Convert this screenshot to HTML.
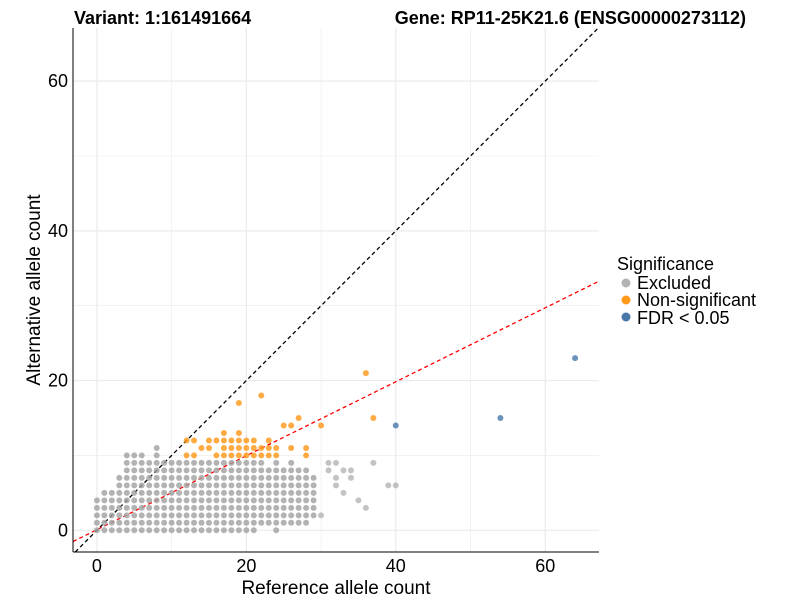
<!DOCTYPE html>
<html><head><meta charset="utf-8"><style>
body{margin:0;background:#fff;}
svg text{font-family:"Liberation Sans",Arial,sans-serif;}
</style></head><body>
<svg width="800" height="600" xmlns="http://www.w3.org/2000/svg">
<g id="grid"></g>
<g id="refline"></g>
<g id="pts"></g>
<g id="axes"></g>
<text x="74" y="24" font-size="18" font-weight="bold">Variant: 1:161491664</text>
<text x="746" y="24" font-size="18" font-weight="bold" text-anchor="end">Gene: RP11-25K21.6 (ENSG00000273112)</text>
<text x="336" y="594" font-size="19" text-anchor="middle">Reference allele count</text>
<text transform="translate(40,290) rotate(-90)" font-size="19" text-anchor="middle">Alternative allele count</text>
<g>
<text x="617" y="270" font-size="18">Significance</text>
<circle cx="626" cy="283" r="4.5" fill="#b3b3b3"/>
<text x="637" y="289" font-size="18">Excluded</text>
<circle cx="626" cy="300" r="4.5" fill="#ff9a1a"/>
<text x="637" y="306" font-size="18">Non-significant</text>
<circle cx="626" cy="317" r="4.5" fill="#4a78a8"/>
<text x="637" y="324" font-size="18">FDR &lt; 0.05</text>
</g>
</svg>
<script>
// grey columns: x index = column, value = max y (from 0 or colMin)
const excludedColTop=[4,5,5,7,10,10,10,9,11,9,9,9,9,9,9,9,9,9,9,9,9,9,9,8,9,8,9,8,8,7];
const excludedColMin=[0,0,0,0,0,0,0,0,0,0,0,0,0,0,0,0,0,0,0,0,0,0,1,1,0,1,1,1,1,2];
const excludedExtraX=[30,31,31,32,32,32,33,33,34,34,37,39,40,35,36];
const excludedExtraY=[2,9,8,9,7,6,8,5,8,7,9,6,6,4,3];
const nonsigX=[12,13,12,13,14,15,15,16,16,17,17,17,17,18,18,18,19,19,19,19,19,20,20,20,21,21,21,22,22,22,23,23,23,24,24,25,26,26,27,28,28,30,36,37];
const nonsigY=[12,12,10,10,11,11,12,12,10,10,11,12,13,10,11,12,10,11,12,13,17,10,11,12,10,11,12,18,10,11,10,11,12,10,11,14,14,11,15,10,11,14,21,15];
const fdrX=[40,54,64];
const fdrY=[14,15,23];
const xTicks=[0,20,40,60];
const yTicks=[0,20,40,60];
const L=73,R=599,T=28,B=552,xmin=-3.2,xmax=67.2,ymin=-2.9,ymax=67.1;
const sx=v=>L+(v-xmin)/(xmax-xmin)*(R-L);
const sy=v=>B-(v-ymin)/(ymax-ymin)*(B-T);
const NS="http://www.w3.org/2000/svg";
function mk(tag,attrs,parent){const e=document.createElementNS(NS,tag);for(const k in attrs)e.setAttribute(k,attrs[k]);parent.appendChild(e);return e;}
const grid=document.getElementById('grid'),pts=document.getElementById('pts'),axes=document.getElementById('axes'),rl=document.getElementById('refline');
for(let v=-10;v<=70;v+=10){
 if(v>=xmin&&v<=xmax){const l=mk('line',{x1:sx(v),x2:sx(v),y1:T,y2:B,stroke:'#ebebeb','stroke-width':v%20==0?1.2:0.6},grid);}
 if(v>=ymin&&v<=ymax){const l=mk('line',{x1:L,x2:R,y1:sy(v),y2:sy(v),stroke:'#ebebeb','stroke-width':v%20==0?1.2:0.6},grid);}
}
function clipLine(m,b,color,name){
 let x1=xmin,y1=m*x1+b,x2=xmax,y2=m*x2+b;
 if(y1<ymin){x1=(ymin-b)/m;y1=ymin;} if(y2>ymax){x2=(ymax-b)/m;y2=ymax;}
 const l=mk('line',{x1:sx(x1),y1:sy(y1),x2:sx(x2),y2:sy(y2),stroke:color,'stroke-width':1.3,'stroke-dasharray':'4,3'},rl);
 
 
}
clipLine(1,0,'#000','identity-line');
clipLine(0.494,0.08,'#ff0000','fit-line');
function dot(x,y,fill,name){const c=mk('circle',{cx:sx(x),cy:sy(y),r:3,fill:fill},pts);}
excludedColTop.forEach((top,x)=>{for(let y=excludedColMin[x];y<=top;y++)dot(x,y,'rgba(160,160,160,0.8)','excluded-point');});
excludedExtraX.forEach((x,i)=>dot(x,excludedExtraY[i],'rgba(170,170,170,0.7)','excluded-point'));
nonsigX.forEach((x,i)=>dot(x,nonsigY[i],'rgba(255,150,20,0.8)','nonsignificant-point'));
fdrX.forEach((x,i)=>dot(x,fdrY[i],'rgba(70,120,170,0.8)','fdr-point'));
let a=mk('line',{x1:L,x2:L,y1:T,y2:B,stroke:'#000','stroke-width':1},axes);
a=mk('line',{x1:L,x2:R,y1:B,y2:B,stroke:'#000','stroke-width':1},axes);
xTicks.forEach(v=>{const t=mk('text',{x:sx(v),y:B+20,'font-size':18,'text-anchor':'middle',fill:'#000'},axes);t.textContent=v;});
yTicks.forEach(v=>{const t=mk('text',{x:L-5,y:sy(v)+6,'font-size':18,'text-anchor':'end',fill:'#000'},axes);t.textContent=v;});
</script>
</body></html>
